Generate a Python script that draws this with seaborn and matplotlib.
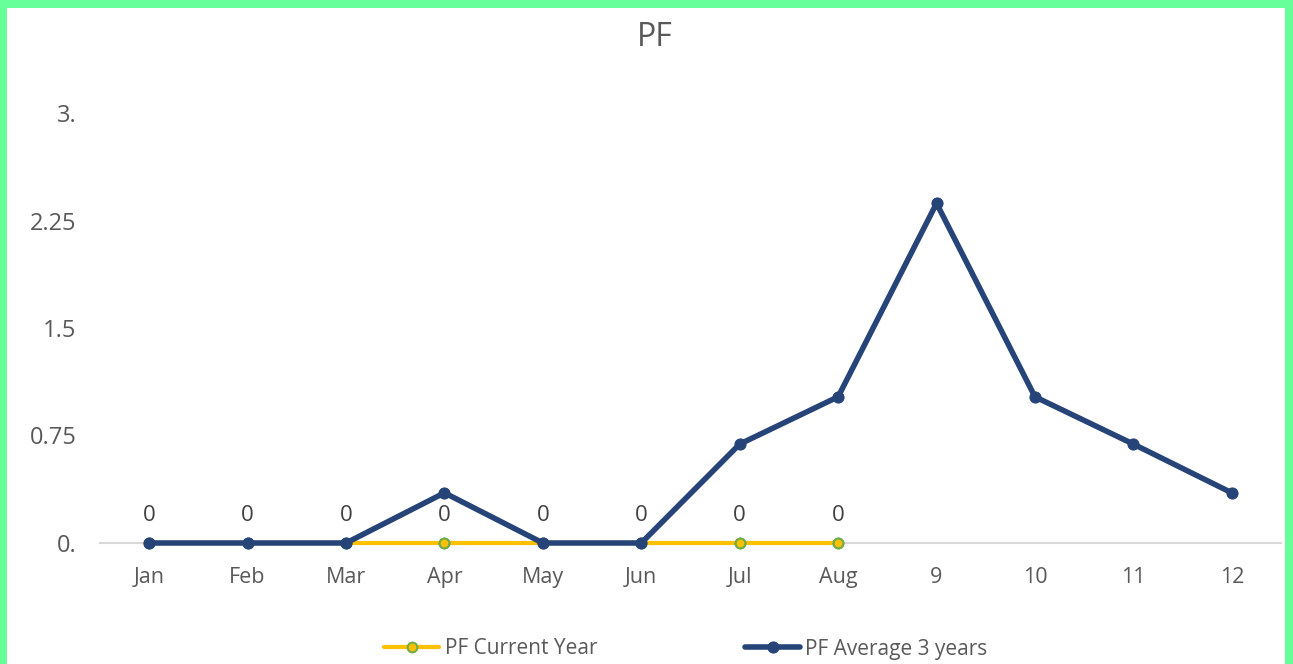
import matplotlib
matplotlib.use("Agg")
import matplotlib.pyplot as plt
from matplotlib.patches import Rectangle
import numpy as np
import pandas as pd
import seaborn as sns

# Monthly categories and the two series
months = ["Jan", "Feb", "Mar", "Apr", "May", "Jun", "Jul", "Aug", "9", "10", "11", "12"]
current_year = [0, 0, 0, 0, 0, 0, 0, 0]
average_3y = [0, 0, 0, 0.35, 0, 0, 0.69, 1.02, 2.37, 1.02, 0.69, 0.35]
y_ticks = [0, 0.75, 1.5, 2.25, 3.0]
y_tick_labels = ["0.", "0.75", "1.5", "2.25", "3."]

sns.set_theme(style="white")
plt.rcParams["font.family"] = ["Open Sans", "DejaVu Sans"]

W, H = 1293, 664
fig = plt.figure(figsize=(W / 100, H / 100), dpi=100)
fig.patch.set_facecolor("white")

left, right, top, bottom = 100, 1281, 113, 543
ax = fig.add_axes([left / W, 1 - bottom / H, (right - left) / W, (bottom - top) / H])

df_cur = pd.DataFrame({"x": np.arange(len(current_year)), "y": current_year})
df_avg = pd.DataFrame({"x": np.arange(len(average_3y)), "y": average_3y})

yellow = "#FFC000"
green_edge = "#70AD47"
navy = "#264478"
text_gray = "#595959"

sns.lineplot(data=df_cur, x="x", y="y", ax=ax, color=yellow, linewidth=3,
             marker="o", markersize=7, markerfacecolor=yellow,
             markeredgecolor=green_edge, markeredgewidth=1.5, zorder=2.6,
             clip_on=False, label="PF Current Year")
sns.lineplot(data=df_avg, x="x", y="y", ax=ax, color=navy, linewidth=4,
             marker="o", markersize=8, markerfacecolor=navy,
             markeredgecolor=navy, zorder=3, clip_on=False,
             label="PF Average 3 years")
ax.get_legend().remove()
# the yellow markers stay visible where the average leaves the baseline
for i, v in enumerate(current_year):
    if average_3y[i] != v:
        ax.plot([i], [v], marker="o", markersize=7, markerfacecolor=yellow,
                markeredgecolor=green_edge, markeredgewidth=1.5, zorder=4,
                clip_on=False)

# value labels above the current-year points
for i, v in enumerate(current_year):
    ax.annotate(f"{v:g}", (i, v), xytext=(0, 20), textcoords="offset points",
                ha="center", va="center", fontsize=16, color="#404040")

ax.set_xlim(-0.5, len(months) - 0.5)
ax.set_ylim(0, 3.0)
ax.set_xlabel("")
ax.set_ylabel("")

ax.set_xticks(np.arange(len(months)))
ax.set_xticklabels(months, fontsize=15.5, color=text_gray)
ax.set_xticks(np.arange(len(months) + 1) - 0.5, minor=True)
ax.tick_params(axis="x", which="major", length=0, pad=17.5)
ax.tick_params(axis="x", which="minor", length=7, width=1.2, color="#D9D9D9", direction="out")

ax.set_yticks(y_ticks)
ax.set_yticklabels(y_tick_labels, fontsize=17, color=text_gray)
ax.tick_params(axis="y", length=0, pad=17)

for s in ["top", "right", "left"]:
    ax.spines[s].set_visible(False)
ax.spines["bottom"].set_color("#D9D9D9")
ax.spines["bottom"].set_linewidth(1.5)
ax.grid(False)

fig.text(655 / W, 1 - 37 / H, "PF", ha="center", va="center", fontsize=23, color=text_gray)

handles, labels = ax.get_legend_handles_labels()
fig.legend(handles, labels, loc="center", bbox_to_anchor=(686 / W, 1 - 649 / H),
           ncol=2, frameon=False, fontsize=15, labelcolor=text_gray,
           handlelength=2.65, handletextpad=0.25, columnspacing=7.1)

# green frame along the left, top and right edges
green = "#66FF99"
for (x0, y0, w, h) in [(0, 0, 7, H), (0, H - 8, W, 8), (W - 8, 0, 8, H)]:
    fig.add_artist(Rectangle((x0 / W, y0 / H), w / W, h / H, transform=fig.transFigure,
                             facecolor=green, edgecolor="none", zorder=10))

fig.savefig("out.png", dpi=100)
